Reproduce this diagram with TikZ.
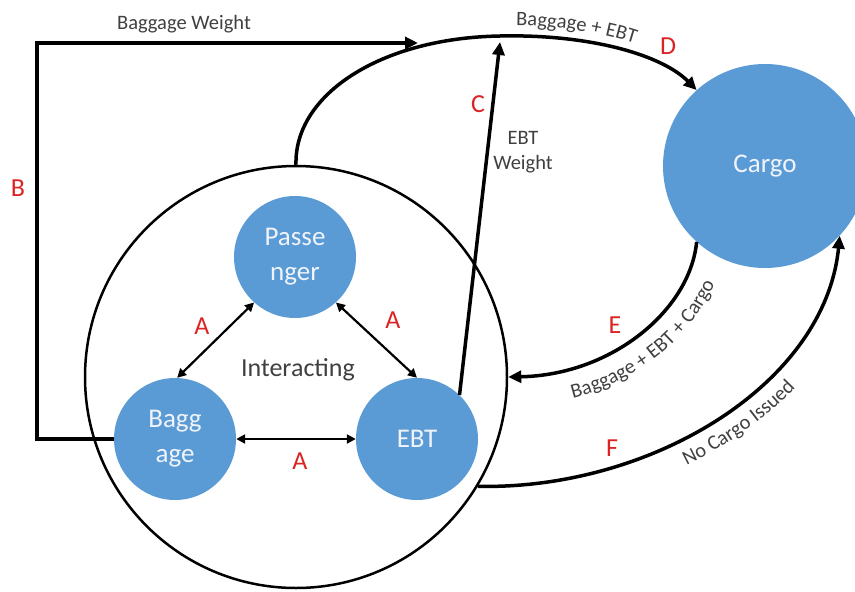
\documentclass[tikz,border=0pt]{standalone}
\usepackage{fontspec}
\setmainfont{Carlito}
\usetikzlibrary{arrows.meta,decorations.text}
\definecolor{cblue}{RGB}{91,155,213}
\definecolor{cred}{RGB}{220,35,35}
\definecolor{ctext}{RGB}{64,64,64}
\definecolor{cwhite}{RGB}{240,244,250}
\newcommand\lblfont{\fontsize{20.5}{25}\selectfont}
\tikzset{
  ent/.style={circle, fill=cblue, draw=none, minimum size=122pt, inner sep=0pt, text=cwhite, align=center, font=\fontsize{27}{35}\selectfont},
  ring/.style={circle, draw=black, line width=2.5pt, minimum size=422pt, inner sep=0pt},
  letter/.style={text=cred, font=\fontsize{26}{30}\selectfont, inner sep=0pt},
  lbl/.style={text=ctext, font=\lblfont, inner sep=0pt, align=center},
  flow/.style={line width=3.5pt, -{Triangle[length=13pt,width=12pt]}},
  inter/.style={line width=2.2pt, {Triangle[length=9pt,width=9pt]}-{Triangle[length=9pt,width=9pt]}},
  curvelbl/.style={decorate, decoration={text along path, text={|\lblfont|#1}, text align=center, text color=ctext}}
}
\begin{document}
\begin{tikzpicture}[x=1pt,y=-1pt]
\useasboundingbox (0,0) rectangle (855,592);
\node[ring] (ring) at (296,377) {};
\node[ent] (pass) at (295,257) {Passe\\nger};
\node[ent] (bag) at (175,439) {Bagg\\age};
\node[ent] (ebt) at (417,439) {EBT};
\node[ent, minimum size=204pt] (cargo) at (765,166) {Cargo};
\node[text=ctext, font=\fontsize{26}{30}\selectfont, inner sep=0pt] (inter) at (298,370) {Interacting};

% A arrows
\draw[inter] (bag.88) -- (pass.228);
\draw[inter] (pass.312) -- (ebt.north);
\draw[inter] (bag.east) -- (ebt.west);
\node[letter] (a1) at (202,326) {A};
\node[letter] (a2) at (393,320) {A};
\node[letter] (a3) at (300,461) {A};

% B
\coordinate (b1) at (37,439);
\coordinate (b2) at (37,43);
\coordinate (btip) at (418,43);
\draw[flow, line join=miter] (bag.west) -- (b1) -- (b2) -- (btip);
\node[lbl] (bw) at (184,24) {Baggage Weight};
\node[letter] (bl) at (18,188) {B};

% D
\coordinate (dtop) at (500,36);
\draw[flow] (ring.north) .. controls (294,95) and (380,38) .. (dtop) .. controls (590,34) and (662,55) .. (cargo.132);
\coordinate (dl0) at (500,26);
\coordinate (dl1) at (650,49);
\path[curvelbl={Baggage + EBT}] (dl0) .. controls (550,24) and (610,33) .. (dl1);
\node[letter] (dlet) at (668,46) {D};

% C
\coordinate (ctip) at (500,42);
\draw[flow] (ebt.46) -- (ctip);
\node[letter] (clet) at (478,104) {C};
\node[lbl] (cw) at (523,152) {EBT\\Weight};

% E
\draw[flow] (cargo.228) .. controls (690,310) and (612,375) .. (ring.east);
\node[letter] (elet) at (615,325) {E};
\coordinate (el0) at (524,405);
\coordinate (el1) at (728,236);
\path[curvelbl={Baggage + EBT + Cargo}] (el0) .. controls (634,401) and (718,322) .. (el1);

% F
\draw[flow] (ring.329) .. controls (650,490) and (825,385) .. (cargo.317);
\node[letter] (flet) at (612,448) {F};
\coordinate (fl0) at (645,482);
\coordinate (fl1) at (823,352);
\path[curvelbl={No Cargo Issued}] (fl0) .. controls (706,463) and (787,411) .. (fl1);
\end{tikzpicture}
\end{document}
